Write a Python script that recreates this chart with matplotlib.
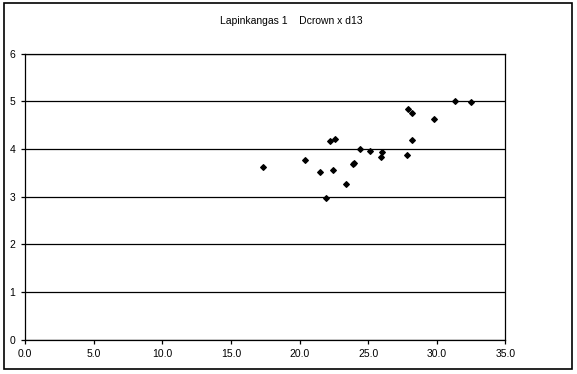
import matplotlib
matplotlib.use('Agg')
import matplotlib.pyplot as plt
from matplotlib.patches import Rectangle

plt.rcParams['font.family'] = ['Liberation Sans', 'DejaVu Sans']

# d13 (x) vs Dcrown (y)
d13 = [17.3, 20.4, 21.5, 21.9, 22.2, 22.6, 22.4, 23.4, 23.9, 24.0, 24.4,
       25.1, 25.9, 26.0, 27.8, 27.9, 28.2, 28.2, 29.8, 31.3, 32.5]
dcrown = [3.62, 3.78, 3.51, 2.98, 4.16, 4.22, 3.55, 3.26, 3.68, 3.71, 4.01,
          3.95, 3.83, 3.94, 3.87, 4.85, 4.75, 4.18, 4.62, 5.01, 4.98]

x_ticks = [0, 5, 10, 15, 20, 25, 30, 35]
y_ticks = [0, 1, 2, 3, 4, 5, 6]

fig = plt.figure(figsize=(5.77, 3.74), dpi=100)
ax = fig.add_axes([25.3 / 577, 1 - 339.7 / 374, 480 / 577, 286 / 374])

# outer chart border
fig.patches.append(Rectangle((4 / 577, 1 - 369 / 374), 568 / 577, 366 / 374,
                             transform=fig.transFigure, fill=False,
                             edgecolor='black', linewidth=1.2))

ax.scatter(d13, dcrown, marker='D', s=8, color='black', zorder=3)

ax.set_xlim(0, 35)
ax.set_ylim(0, 6)
ax.set_xticks(x_ticks)
ax.set_xticklabels([f'{v:.1f}' for v in x_ticks])
ax.set_yticks(y_ticks)
ax.yaxis.grid(True, color='black', linewidth=0.9)
ax.set_axisbelow(True)
for s in ax.spines.values():
    s.set_linewidth(0.9)
ax.tick_params(direction='out', length=3, width=0.9, labelsize=7.5, pad=4)

fig.text(291 / 577, 1 - 21 / 374, 'Lapinkangas 1    Dcrown x d13',
         ha='center', va='center', fontsize=7.5)

fig.savefig('out.png', dpi=100)
